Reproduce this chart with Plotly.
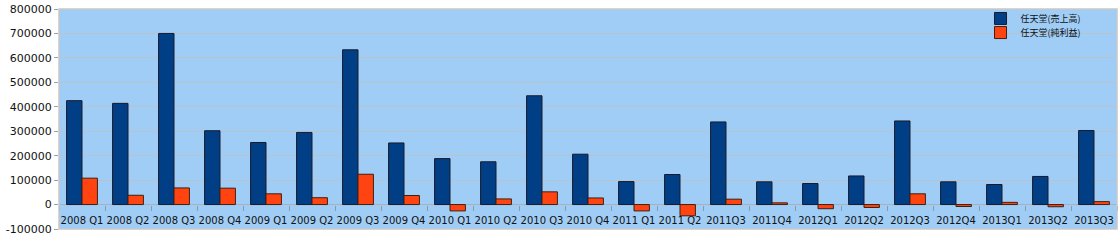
import plotly.graph_objects as go

categories = ["2008 Q1", "2008 Q2", "2008 Q3", "2008 Q4", "2009 Q1", "2009 Q2", "2009 Q3",
              "2009 Q4", "2010 Q1", "2010 Q2", "2010 Q3", "2010 Q4", "2011 Q1", "2011 Q2",
              "2011Q3", "2011Q4", "2012Q1", "2012Q2", "2012Q3", "2012Q4", "2013Q1", "2013Q2", "2013Q3"]
sales = [425000, 414000, 700000, 302000, 254000, 295000, 633000,
         252000, 188000, 175000, 445000, 206000, 94000, 123000,
         338000, 93000, 86000, 117000, 342000, 93000, 82000, 115000, 303000]
profit = [108000, 38000, 68000, 67000, 44000, 28000, 124000,
          37000, -26000, 23000, 52000, 27000, -26000, -46000,
          22000, 7000, -17000, -12000, 44000, -8000, 9000, -9000, 12000]
series_names = ["任天堂(売上高)", "任天堂(純利益)"]
y_ticks = [-100000, 0, 100000, 200000, 300000, 400000, 500000, 600000, 700000, 800000]

fig = go.Figure()
fig.add_trace(go.Bar(x=categories, y=sales, name=series_names[0], legend="legend", showlegend=True,
                     marker=dict(color="#003f85", line=dict(color="#1a1a2a", width=1))))
fig.add_trace(go.Bar(x=categories, y=profit, name=series_names[1], legend="legend2", showlegend=True,
                     marker=dict(color="#ff4412", line=dict(color="#402010", width=1))))

legend_font = dict(family="Noto Sans CJK JP", size=9, color="#111111")
fig.update_layout(
    width=1120, height=240,
    margin=dict(l=59, r=3, t=9, b=11),
    paper_bgcolor="white",
    plot_bgcolor="#a0cdf6",
    showlegend=True,
    barmode="group", bargap=0.33, bargroupgap=0,
    font=dict(family="DejaVu Sans", size=10, color="#111111"),
    legend=dict(x=0.871, xanchor="left", y=0.957, yanchor="middle", visible=True,
                bgcolor="rgba(0,0,0,0)", font=legend_font, itemwidth=30),
    legend2=dict(x=0.871, xanchor="left", y=0.893, yanchor="middle", visible=True,
                 bgcolor="rgba(0,0,0,0)", font=legend_font, itemwidth=30),
    xaxis=dict(anchor="free", position=1/9, showline=False, showgrid=False,
               ticks="outside", tickson="boundaries", ticklen=5, tickcolor="#8a9bb0",
               tickangle=0, ticklabelstandoff=8,
               tickfont=dict(family="DejaVu Sans", size=10, color="#111111")),
    yaxis=dict(range=[-100000, 800000], tickvals=y_ticks, ticktext=[str(v) for v in y_ticks],
               showgrid=True, gridcolor="#b9c3cc", gridwidth=1,
               zeroline=True, zerolinecolor="#a8b0b8", zerolinewidth=1,
               ticks="outside", ticklen=4, tickcolor="#a0a0a0",
               tickfont=dict(family="DejaVu Sans", size=11, color="#111111")),
    shapes=[dict(type="rect", xref="paper", yref="paper", x0=0, x1=1, y0=0, y1=1,
                 line=dict(color="#c8c8c8", width=1.5), layer="above")],
)

fig.write_html("out.html")
